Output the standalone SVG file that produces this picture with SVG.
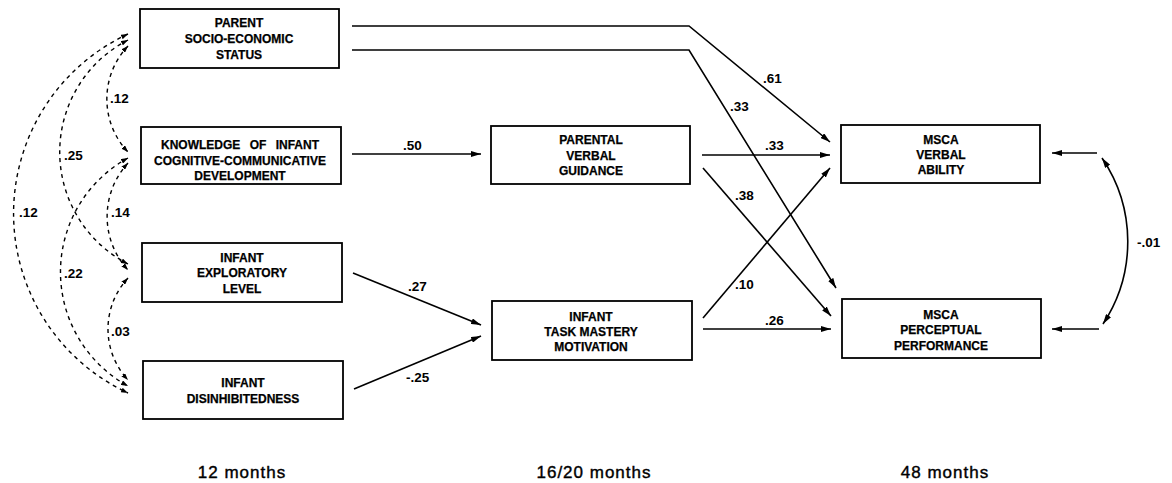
<svg xmlns="http://www.w3.org/2000/svg" width="1172" height="483" viewBox="0 0 1172 483">
<style>
.box{fill:#fff;stroke:#000;stroke-width:1.8}
.n{font-family:"Liberation Sans",Arial,sans-serif;font-weight:bold;font-size:12px;text-anchor:middle;fill:#000;stroke:#000;stroke-width:0.25}
.e{font-family:"Liberation Sans",Arial,sans-serif;font-weight:bold;font-size:13.5px;fill:#000}
.m{font-family:"Liberation Sans",Arial,sans-serif;font-size:17px;letter-spacing:1px;text-anchor:middle;fill:#000;stroke:#000;stroke-width:0.4}
.c{fill:none;stroke:#000;stroke-width:1.6}
.d{fill:none;stroke:#000;stroke-width:1.4;stroke-dasharray:4 4}
</style>
<defs>
<marker id="a" viewBox="0 0 10 6" refX="10" refY="3" markerWidth="10" markerHeight="6" markerUnits="userSpaceOnUse" orient="auto-start-reverse"><path d="M0,0 L10,3 L0,6 z" fill="#000"/></marker>
<marker id="da" viewBox="0 0 7 5" refX="7" refY="2.5" markerWidth="7" markerHeight="5" markerUnits="userSpaceOnUse" orient="auto-start-reverse"><path d="M0,0 L7,2.5 L0,5 z" fill="#000"/></marker>
</defs>

<g id="connectors">
<path class="c" d="M352,26 H689 L830,142" marker-end="url(#a)"/>
<path class="c" d="M352,50 H689 L836,288" marker-end="url(#a)"/>
<path class="c" d="M352,154 H481" marker-end="url(#a)"/>
<path class="c" d="M702,155 H830" marker-end="url(#a)"/>
<path class="c" d="M703,168 L831,316" marker-end="url(#a)"/>
<path class="c" d="M703,318 L830,168" marker-end="url(#a)"/>
<path class="c" d="M703,329 H831" marker-end="url(#a)"/>
<path class="c" d="M353,273 L481,325" marker-end="url(#a)"/>
<path class="c" d="M354,389 L481,336" marker-end="url(#a)"/>
<path class="c" d="M1097,153 H1052" marker-end="url(#a)"/>
<path class="c" d="M1099,329 H1052" marker-end="url(#a)"/>
<path class="c" d="M1102,158 A149,149 0 0 1 1103,324" marker-start="url(#a)" marker-end="url(#a)"/>

<path class="d" d="M128,34 A198,198 0 0 0 128,393" marker-start="url(#da)" marker-end="url(#da)"/>
<path class="d" d="M128,40 A126,126 0 0 0 128,264" marker-start="url(#da)" marker-end="url(#da)"/>
<path class="d" d="M128,46 A77,77 0 0 0 128,152" marker-start="url(#da)" marker-end="url(#da)"/>
<path class="d" d="M128,163 A79,79 0 0 0 128,270" marker-start="url(#da)" marker-end="url(#da)"/>
<path class="d" d="M128,158 A130,130 0 0 0 128,386" marker-start="url(#da)" marker-end="url(#da)"/>
<path class="d" d="M128,278 A75,75 0 0 0 128,380" marker-start="url(#da)" marker-end="url(#da)"/>

<text class="e" x="763" y="83">.61</text>
<text class="e" x="730" y="111">.33</text>
<text class="e" x="765" y="150">.33</text>
<text class="e" x="735" y="200">.38</text>
<text class="e" x="735" y="289">.10</text>
<text class="e" x="765" y="325">.26</text>
<text class="e" x="403" y="150">.50</text>
<text class="e" x="408" y="291">.27</text>
<text class="e" x="406" y="382">-.25</text>
<text class="e" x="1137" y="247">-.01</text>
<text class="e" x="110" y="103">.12</text>
<text class="e" x="64" y="160">.25</text>
<text class="e" x="19" y="217">.12</text>
<text class="e" x="111" y="217">.14</text>
<text class="e" x="64" y="278">.22</text>
<text class="e" x="111" y="336">.03</text>
</g>

<g id="n_parent_ses">
<rect class="box" x="140" y="9" width="199" height="59"/>
<text class="n" x="239" y="27">PARENT</text>
<text class="n" x="239" y="43">SOCIO-ECONOMIC</text>
<text class="n" x="239" y="59">STATUS</text>
</g>
<g id="n_knowledge">
<rect class="box" x="141" y="127" width="200" height="57"/>
<text class="n" x="240" y="149" word-spacing="6">KNOWLEDGE OF INFANT</text>
<text class="n" x="240" y="165">COGNITIVE-COMMUNICATIVE</text>
<text class="n" x="240" y="180">DEVELOPMENT</text>
</g>
<g id="n_exploratory">
<rect class="box" x="142" y="243" width="200" height="59"/>
<text class="n" x="242" y="262">INFANT</text>
<text class="n" x="242" y="277">EXPLORATORY</text>
<text class="n" x="242" y="293">LEVEL</text>
</g>
<g id="n_disinhibitedness">
<rect class="box" x="143" y="361" width="200" height="58"/>
<text class="n" x="243" y="387">INFANT</text>
<text class="n" x="243" y="403">DISINHIBITEDNESS</text>
</g>
<g id="n_parental_verbal">
<rect class="box" x="491" y="126" width="199" height="58"/>
<text class="n" x="591" y="144">PARENTAL</text>
<text class="n" x="591" y="160">VERBAL</text>
<text class="n" x="591" y="175">GUIDANCE</text>
</g>
<g id="n_task_mastery">
<rect class="box" x="492" y="301" width="200" height="59"/>
<text class="n" x="591" y="321">INFANT</text>
<text class="n" x="591" y="336">TASK MASTERY</text>
<text class="n" x="591" y="351">MOTIVATION</text>
</g>
<g id="n_msca_verbal">
<rect class="box" x="841" y="125" width="199" height="58"/>
<text class="n" x="941" y="144">MSCA</text>
<text class="n" x="941" y="159">VERBAL</text>
<text class="n" x="941" y="174">ABILITY</text>
</g>
<g id="n_msca_perceptual">
<rect class="box" x="842" y="299" width="199" height="59"/>
<text class="n" x="941" y="319">MSCA</text>
<text class="n" x="941" y="334">PERCEPTUAL</text>
<text class="n" x="941" y="350">PERFORMANCE</text>
</g>

<g id="time_labels">
<text class="m" x="242" y="478">12 months</text>
<text class="m" x="594" y="478">16/20 months</text>
<text class="m" x="945" y="478">48 months</text>
</g>
</svg>
